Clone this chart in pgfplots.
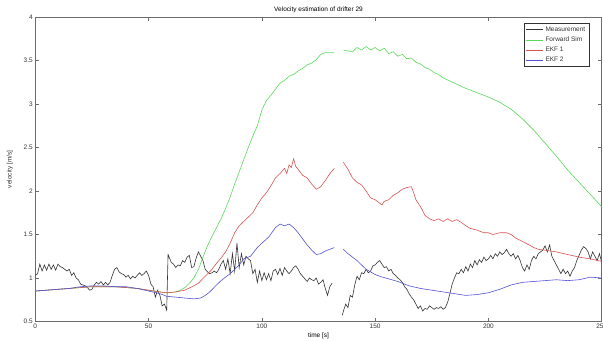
\documentclass[border=0pt]{standalone}
\usepackage{pgfplots}
\pgfplotsset{compat=1.18}
\usepackage{fontspec}
\setmainfont{Liberation Sans}
\definecolor{mgreen}{rgb}{0.35,0.85,0.35}
\definecolor{mred}{rgb}{0.85,0.32,0.32}
\definecolor{mblue}{rgb}{0.32,0.32,0.85}
\definecolor{mblack}{rgb}{0.2,0.2,0.2}
\definecolor{axgray}{rgb}{0.42,0.42,0.42}
\begin{document}
\begin{tikzpicture}
\begin{axis}[
  scale only axis, width=566.4pt, height=304.5pt,
  at={(0,0)}, anchor=south west,
  xmin=0, xmax=250, ymin=0.5, ymax=4,
  xtick={0,50,...,250}, ytick={0.5,1,...,4},
  tick align=inside, major tick length=4pt,
  axis line style={axgray, line width=0.6pt},
  every tick/.style={axgray, line width=0.6pt},
  /pgf/number format/assume math mode=true,
  tick label style={font=\fontsize{6.5}{7}\selectfont, text=black!80},
  xticklabel style={yshift=1pt},
  yticklabel style={xshift=1pt},
  title={Velocity estimation of drifter 29},
  title style={font=\fontsize{6.5}{7}\selectfont, at={(axis description cs:0.5,1)}, anchor=center, yshift=1.5pt},
  xlabel={time [s]},
  xlabel style={font=\fontsize{6.5}{7}\selectfont, at={(axis description cs:0.5,0)}, anchor=center, yshift=-14pt},
  ylabel={velocity [m/s]},
  every axis y label/.style={at={(axis description cs:-0.0447,0.5)}, anchor=center, rotate=90, font=\fontsize{6.5}{7}\selectfont, text=black!80},
  unbounded coords=jump,
  legend style={at={(rel axis cs:1,1)}, anchor=north east, xshift=-12.7pt, yshift=-6pt,
    font=\fontsize{6.5}{7}\selectfont, draw=black!80, line width=0.5pt, inner sep=1.5pt, row sep=0pt, text=black!80},
  legend cell align=left,
  legend image code/.code={\draw[#1, line width=0.6pt] (0,0) -- (0.62cm,0);},
  every axis plot/.append style={line width=0.6pt},
]
\addplot[mblack] coordinates {
(0,1.03) (1,1.05) (2,1.16) (3,1.08) (4,1.15) (5,1.09) (6,1.16) (7,1.10) (8,1.15) (9,1.09) (10,1.16)
(11,1.13) (12,1.12) (13,1.10) (14,1.08) (15,1.10) (16,1.03) (17,1.06) (18,1.00) (19,0.98) (20,0.93)
(21,0.92) (22,0.91) (23,0.89) (24,0.86) (25,0.87) (26,0.92) (27,0.95) (28,0.93) (29,0.96) (30,0.92)
(31,0.95) (32,0.92) (33,0.95) (34,1.03) (35,1.10) (36,1.12) (37,1.07) (38,1.05) (39,1.04) (40,1.01)
(41,1.03) (42,0.99) (43,1.02) (44,1.00) (45,1.03) (46,1.06) (47,1.03) (48,1.05) (49,1.08) (50,1.03)
(51,0.93) (52,0.90) (53,0.78) (54,0.86) (55,0.80) (56,0.68) (57,0.70) (58,0.63) (58.6,1.27) (60,1.18)
(61,1.16) (62,1.12) (63,1.15) (64,1.14) (65,1.20) (66,1.18) (67,1.24) (68,1.26) (69,1.12) (70,1.13)
(71,1.23) (72,1.30) (73,1.25) (74,1.20) (75,1.10) (76,1.07) (77,1.05) (78,1.06) (79,1.08) (80,1.06)
(81,1.10) (82,1.16) (83,1.20) (84,1.10) (85,1.22) (86,1.05) (87,1.28) (88,1.08) (89,1.40) (90,1.12)
(91,1.28) (92,1.15) (93,1.25) (94,1.22) (95,1.20) (96,1.05) (97,1.10) (98,0.95) (99,1.08) (100,0.97)
(101,1.06) (102,0.98) (103,1.05) (104,0.97) (105,1.08) (106,1.10) (107,1.04) (108,1.11) (109,1.03) (110,1.12)
(111,1.08) (112,1.05) (113,1.08) (114,1.12) (115,1.14) (116,1.10) (117,1.05) (118,1.02) (119,0.99) (120,0.96)
(121,1.00) (122,0.98) (123,0.97) (124,1.00) (125,0.93) (126,0.95) (127,0.98) (128,0.88) (129,0.80) (130,0.90)
(131,0.94) (133,nan)
(135.5,0.57) (136,0.62) (137,0.70) (138,0.66) (139,0.80) (140,0.78) (141,0.92) (142,1.02) (143,0.98) (144,1.06)
(145,1.05) (146,1.10) (147,1.06) (148,1.08) (149,1.14) (150,1.15) (151,1.18) (152,1.20) (153,1.16) (154,1.12)
(155,1.13) (156,1.08) (157,1.10) (158,1.05) (159,1.03) (160,1.00) (161,0.98) (162,0.95) (163,0.90) (164,0.87)
(165,0.82) (166,0.78) (167,0.75) (168,0.70) (169,0.65) (170,0.68) (171,0.62) (172,0.65) (173,0.64) (174,0.68)
(175,0.66) (176,0.64) (177,0.66) (178,0.65) (179,0.67) (180,0.64) (181,0.66) (182,0.72) (183,0.82) (184,0.93)
(185,1.00) (186,1.06) (187,1.05) (188,1.10) (189,1.06) (190,1.13) (191,1.08) (192,1.16) (193,1.12) (194,1.20)
(195,1.15) (196,1.21) (197,1.18) (198,1.24) (199,1.20) (200,1.22) (201,1.26) (202,1.22) (203,1.28) (204,1.25)
(205,1.30) (206,1.27) (207,1.29) (208,1.33) (209,1.28) (210,1.25) (211,1.28) (212,1.22) (213,1.26) (214,1.20)
(215,1.12) (216,1.08) (217,1.15) (218,1.10) (219,1.20) (220,1.25) (221,1.22) (222,1.28) (223,1.30) (224,1.32)
(225,1.37) (226,1.30) (227,1.38) (228,1.25) (229,1.20) (230,1.15) (231,1.10) (232,1.05) (233,1.10) (234,1.05)
(235,1.08) (236,1.02) (237,1.08) (238,1.12) (239,1.20) (240,1.26) (241,1.32) (242,1.36) (243,1.34) (244,1.30)
(245,1.22) (246,1.30) (247,1.25) (248,1.20) (249,1.28) (250,1.18)
};
\addlegendentry{Measurement}
\addplot[mgreen] coordinates {
(0,0.85) (5,0.86) (10,0.87) (15,0.88) (20,0.89) (25,0.90) (30,0.90) (35,0.90) (40,0.89) (45,0.88)
(50,0.86) (55,0.84) (58,0.83) (62,0.84) (64,0.86) (66,0.89) (68,0.94) (70,1.00) (72,1.10) (74,1.24)
(76,1.37) (78,1.48) (80,1.58) (82,1.68) (84,1.80) (86,1.93) (88,2.08) (90,2.22) (92,2.36) (94,2.50)
(96,2.63) (98,2.75) (100,2.93) (102,3.04) (104,3.10) (106,3.17) (108,3.24) (110,3.27) (112,3.32) (114,3.34)
(116,3.38) (118,3.41) (120,3.45) (122,3.47) (124,3.51) (126,3.57) (128,3.59) (132,3.59) (133,nan)
(136,3.62) (138,3.61) (140,3.60) (142,3.65) (144,3.62) (146,3.66) (148,3.62) (150,3.65) (152,3.61) (154,3.64)
(156,3.58) (158,3.60) (160,3.55) (162,3.57) (164,3.52) (166,3.53) (168,3.48) (170,3.46) (172,3.42) (174,3.40)
(176,3.36) (178,3.34) (180,3.30) (185,3.24) (190,3.18) (195,3.13) (200,3.08) (205,3.02) (210,2.94) (215,2.83)
(220,2.70) (225,2.55) (230,2.40) (235,2.24) (240,2.10) (245,1.96) (250,1.82)
};
\addlegendentry{Forward Sim}
\addplot[mred] coordinates {
(0,0.85) (5,0.86) (10,0.87) (15,0.88) (20,0.89) (25,0.90) (30,0.90) (35,0.90) (40,0.89) (45,0.88)
(50,0.86) (55,0.84) (58,0.83) (62,0.84) (66,0.86) (70,0.91) (72,0.94) (75,1.02) (78,1.10) (80,1.17)
(82,1.23) (84,1.30) (86,1.40) (88,1.52) (90,1.60) (92,1.65) (94,1.70) (96,1.75) (98,1.84) (100,1.92)
(102,1.98) (104,2.06) (106,2.15) (108,2.20) (110,2.26) (111,2.20) (112,2.30) (113,2.27) (114,2.37) (115,2.28)
(116,2.25) (118,2.18) (120,2.15) (122,2.08) (124,2.02) (126,2.05) (128,2.12) (130,2.20) (132,2.26) (133,nan)
(136,2.33) (138,2.25) (140,2.15) (142,2.10) (144,2.07) (146,2.00) (148,1.92) (150,1.90) (152,1.86) (153,1.84)
(154,1.88) (156,1.90) (158,1.95) (160,1.98) (162,2.02) (164,2.04) (166,2.05) (167,1.98) (168,1.90) (170,1.82)
(172,1.72) (174,1.68) (176,1.66) (178,1.68) (180,1.65) (182,1.68) (184,1.65) (186,1.67) (188,1.64) (190,1.60)
(192,1.57) (195,1.55) (198,1.52) (200,1.52) (202,1.50) (205,1.52) (208,1.52) (210,1.50) (212,1.46) (215,1.42)
(218,1.38) (220,1.35) (222,1.33) (225,1.32) (230,1.30) (235,1.27) (240,1.24) (245,1.22) (250,1.19)
};
\addlegendentry{EKF 1}
\addplot[mblue] coordinates {
(0,0.85) (5,0.86) (10,0.87) (15,0.88) (20,0.90) (25,0.91) (30,0.91) (35,0.90) (40,0.90) (45,0.88)
(50,0.85) (55,0.82) (58,0.79) (62,0.78) (66,0.77) (70,0.76) (73,0.77) (75,0.80) (77,0.84) (80,0.92)
(82,0.97) (84,1.01) (86,1.05) (88,1.10) (90,1.15) (92,1.22) (95,1.25) (98,1.35) (100,1.40) (103,1.47)
(106,1.58) (108,1.62) (110,1.60) (112,1.62) (114,1.58) (116,1.52) (118,1.45) (120,1.38) (122,1.32) (124,1.27)
(126,1.28) (128,1.31) (130,1.33) (132,1.35) (133,nan)
(136,1.33) (138,1.28) (140,1.24) (142,1.20) (144,1.15) (146,1.10) (148,1.07) (150,1.04) (152,1.02) (156,0.99)
(160,0.96) (165,0.91) (170,0.88) (175,0.86) (180,0.84) (185,0.82) (190,0.80) (195,0.81) (200,0.83) (205,0.87)
(210,0.92) (215,0.95) (220,0.96) (225,0.97) (230,0.98) (235,0.97) (240,0.98) (245,1.01) (250,1.00)
};
\addlegendentry{EKF 2}
\end{axis}
\pgfresetboundingbox
\useasboundingbox (-35.3pt,-19.5pt) rectangle (567.7pt,321.5pt);
\end{tikzpicture}
\end{document}
